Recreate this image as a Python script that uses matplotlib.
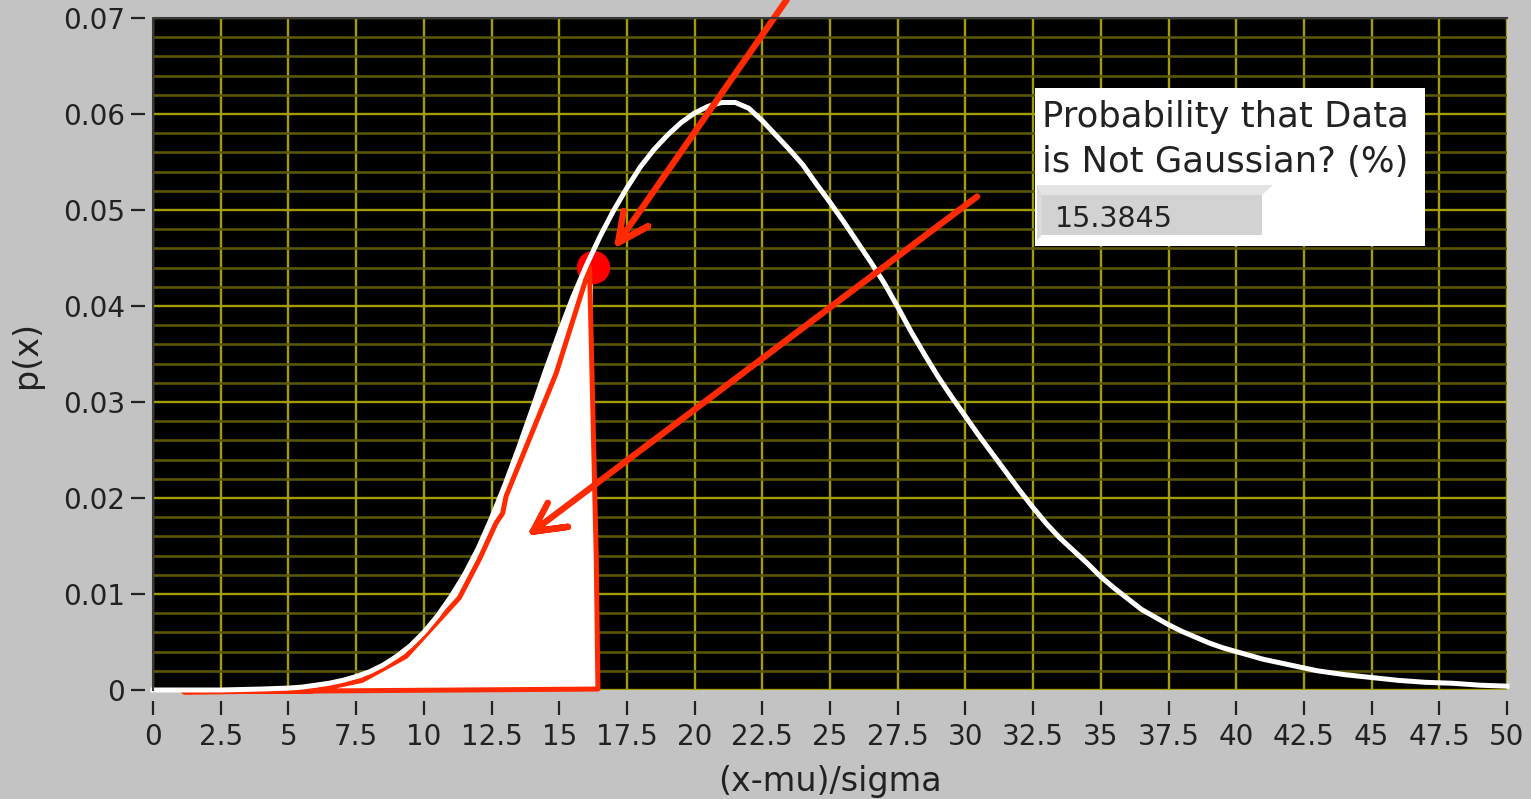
import numpy as np
import matplotlib
matplotlib.use("Agg")
import matplotlib.pyplot as plt
from matplotlib.patches import Rectangle, Polygon

# Probability density curve, p(x) against (x-mu)/sigma
x_vals = [0, 2.5, 4, 5, 5.5, 6, 6.5, 7, 7.5, 8, 8.5, 9, 9.5, 10, 10.5, 11,
          11.5, 12, 12.5, 13, 13.5, 14, 14.5, 15, 15.5, 16, 16.5, 17, 17.5,
          18, 18.5, 19, 19.5, 20, 20.5, 21, 21.5, 22, 22.5, 23, 23.5, 24,
          24.5, 25, 25.5, 26, 26.5, 27, 27.5, 28, 28.5, 29, 29.5, 30, 30.5,
          31, 31.5, 32, 32.5, 33, 33.5, 34, 34.5, 35, 35.5, 36, 36.5, 37,
          37.5, 38, 38.5, 39, 39.5, 40, 41, 42, 43, 44, 45, 46, 47, 48, 49,
          50]
p_vals = [0.0000, 0.0000, 0.0001, 0.0002, 0.0003, 0.0005, 0.0007, 0.0010,
          0.0014, 0.0019, 0.0026, 0.0035, 0.0046, 0.0060, 0.0077, 0.0097,
          0.0120, 0.0147, 0.0179, 0.0214, 0.0252, 0.0292, 0.0333, 0.0372,
          0.0409, 0.0442, 0.0472, 0.0499, 0.0523, 0.0545, 0.0563, 0.0578,
          0.0591, 0.0601, 0.0608, 0.0612, 0.0612, 0.0606, 0.0593, 0.0578,
          0.0563, 0.0547, 0.0527, 0.0508, 0.0488, 0.0467, 0.0446, 0.0424,
          0.0399, 0.0373, 0.0349, 0.0326, 0.0305, 0.0285, 0.0265, 0.0246,
          0.0227, 0.0208, 0.0190, 0.0173, 0.0158, 0.0145, 0.0132, 0.0118,
          0.0106, 0.0095, 0.0084, 0.0076, 0.0068, 0.0061, 0.0055, 0.0049,
          0.0044, 0.0040, 0.0032, 0.0026, 0.0020, 0.0016, 0.0013, 0.0010,
          0.0008, 0.0007, 0.0005, 0.0004]

# Observed statistic, its marker height, and the resulting probability
threshold_x = 16.23
threshold_p = 0.0441
prob_text = "15.3845"

x_ticks = [0, 2.5, 5, 7.5, 10, 12.5, 15, 17.5, 20, 22.5, 25, 27.5, 30,
           32.5, 35, 37.5, 40, 42.5, 45, 47.5, 50]
x_tick_labels = ["0", "2.5", "5", "7.5", "10", "12.5", "15", "17.5", "20",
                 "22.5", "25", "27.5", "30", "32.5", "35", "37.5", "40",
                 "42.5", "45", "47.5", "50"]
y_ticks = [0, 0.01, 0.02, 0.03, 0.04, 0.05, 0.06, 0.07]
y_tick_labels = ["0", "0.01", "0.02", "0.03", "0.04", "0.05", "0.06", "0.07"]

W, H = 1531, 799
BG = "#c3c3c3"
TXT = "#222222"
RED = "#ff2a00"


def fpos(xp, yp):
    """Pixel position (from top-left) to figure fraction."""
    return xp / W, 1 - yp / H


fig = plt.figure(figsize=(W / 100, H / 100), dpi=100, facecolor=BG)
ax = fig.add_axes([153 / W, 1 - 690 / H, (1507 - 153) / W, (690 - 18) / H])
ax.set_facecolor("black")
ax.set_xlim(0, 50)
ax.set_ylim(0, 0.07)

# ticks and grid
ax.set_xticks(x_ticks)
ax.set_xticklabels(x_tick_labels)
ax.set_yticks(y_ticks)
ax.set_yticklabels(y_tick_labels)
ax.set_yticks(np.arange(0, 0.0701, 0.002), minor=True)
ax.grid(which="minor", axis="y", color="#5a5600", lw=1.9, zorder=0)
ax.grid(which="major", color="#a39d00", lw=1.7, zorder=0)
ax.set_axisbelow(True)
ax.tick_params(axis="both", which="major", length=10, width=1.6,
               color=TXT, labelcolor=TXT, labelsize=20)
ax.tick_params(axis="y", which="minor", length=0)
ax.tick_params(axis="y", which="major", pad=4)
ax.tick_params(axis="x", which="major", pad=6)

for side in ["bottom", "right", "left", "top"]:
    ax.spines[side].set_color("none")
ax.spines["bottom"].set_position(("outward", 8))
ax.spines["left"].set_position(("outward", 6))

# thin dark frame on the left and top of the plot area
ax.plot([0, 0, 1], [0, 1, 1], transform=ax.transAxes, color="#3a3a3a",
        lw=1.5, clip_on=False, zorder=6)

ax.set_xlabel("(x-mu)/sigma", fontsize=24, color=TXT)
ax.set_ylabel("p(x)", fontsize=24, color=TXT)
ax.xaxis.set_label_coords(0.5, -0.112)
ax.yaxis.set_label_coords(-0.081, 0.5)

xa = np.array(x_vals)
pa = np.array(p_vals)
curve_at_thr = np.interp(threshold_x, xa, pa)

# shaded tail region up to the observed statistic
mask = xa <= threshold_x
fx = np.append(xa[mask], threshold_x)
fp = np.append(pa[mask], curve_at_thr)
ax.fill_between(fx, 0, fp, color="white", lw=0, zorder=2)

# hand-drawn outline of the shaded region
outline = [(1.14, -0.0002), (5.87, -0.0001), (7.72, 0.0010), (9.34, 0.0035),
           (11.31, 0.0096), (12.05, 0.0136), (12.67, 0.0174), (12.91, 0.0184),
           (13.04, 0.0202), (14.89, 0.0330), (16.12, 0.0440), (16.37, 0.0136),
           (16.43, 0.0001)]
ax.add_patch(Polygon(outline, closed=True, facecolor="white", edgecolor=RED,
                     lw=3.6, joinstyle="round", zorder=3, clip_on=False))

# marker at the observed statistic
ax.plot([threshold_x], [threshold_p], "o", ms=24, color="#ff0000",
        mec="none", zorder=2.5)

# density curve
ax.plot(xa, pa, color="white", lw=3.6, zorder=4, clip_on=False,
        solid_joinstyle="round")

# red callout arrows
arrows = [
    [(23.40, 0.0719), (17.17, 0.0466), (18.28, 0.0483), (17.17, 0.0466),
     (17.38, 0.0499)],
    [(30.43, 0.0514), (14.02, 0.0165), (15.32, 0.0170), (14.02, 0.0165),
     (14.58, 0.0195)],
]
for pts in arrows:
    px_, py_ = zip(*pts)
    ax.plot(px_, py_, color=RED, lw=4.6, solid_capstyle="round",
            solid_joinstyle="round", zorder=5, clip_on=False)

# probability readout box
x0, y0 = fpos(1035, 246)
x1, y1 = fpos(1425, 88)
fig.add_artist(Rectangle((x0, y0), x1 - x0, y1 - y0, transform=fig.transFigure,
                         facecolor="white", edgecolor="none", zorder=10))
top_band = [fpos(1037, 185), fpos(1273, 185), fpos(1262, 195), fpos(1042, 195)]
fig.add_artist(Polygon(top_band, closed=True, transform=fig.transFigure,
                       facecolor="#e4e4e4", edgecolor="none", zorder=11))
left_band = [fpos(1037, 185), fpos(1042, 195), fpos(1042, 235), fpos(1037, 240)]
fig.add_artist(Polygon(left_band, closed=True, transform=fig.transFigure,
                       facecolor="#dadada", edgecolor="none", zorder=11))
fx0, fy0 = fpos(1042, 235)
fx1, fy1 = fpos(1262, 195)
fig.add_artist(Rectangle((fx0, fy0), fx1 - fx0, fy1 - fy0,
                         transform=fig.transFigure, facecolor="#d2d2d2",
                         edgecolor="none", zorder=11))

tx, ty = fpos(1042, 127)
fig.text(tx, ty, "Probability that Data", fontsize=25.5, color=TXT,
         ha="left", va="baseline", zorder=12)
tx, ty = fpos(1042, 172)
fig.text(tx, ty, "is Not Gaussian? (%)", fontsize=25.5, color=TXT,
         ha="left", va="baseline", zorder=12)
tx, ty = fpos(1055, 227)
fig.text(tx, ty, prob_text, fontsize=20.5, color=TXT, ha="left",
         va="baseline", zorder=12)

fig.savefig("out.png", dpi=100, facecolor=BG)
